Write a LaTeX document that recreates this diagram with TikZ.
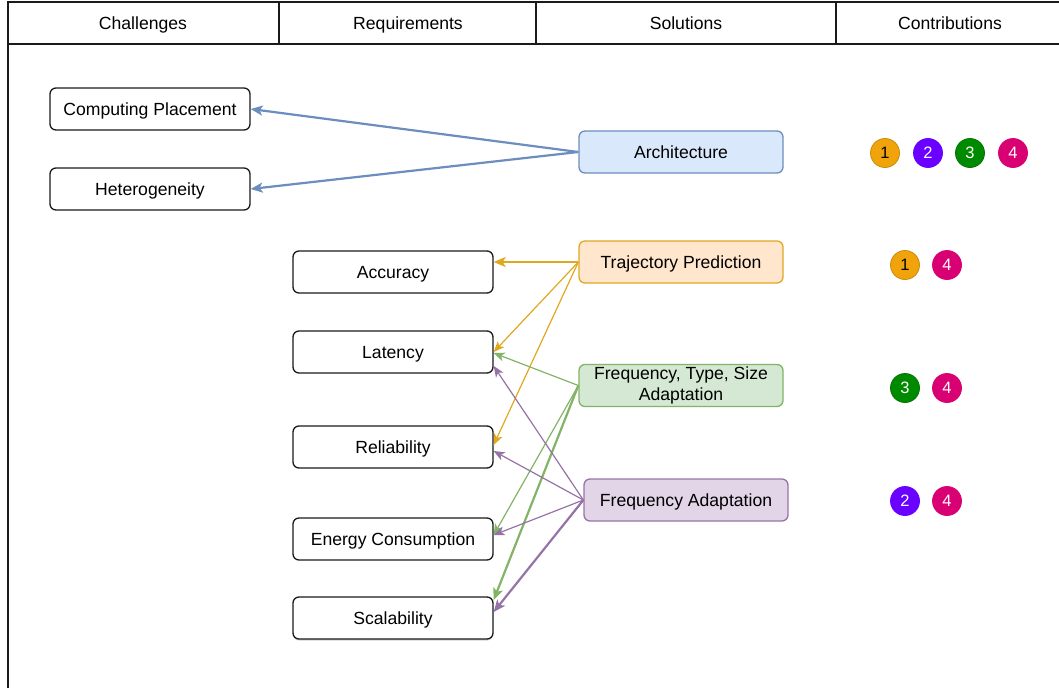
\documentclass[tikz,border=0pt]{standalone}
\usepackage{fontspec}
\setmainfont{Liberation Sans}
\usetikzlibrary{arrows.meta,calc,shadows}
\definecolor{bline}{HTML}{6C8EBF}
\definecolor{bfill}{HTML}{DAE8FC}
\definecolor{oline}{HTML}{E0A820}
\definecolor{ofill}{HTML}{FFE6CC}
\definecolor{gline}{HTML}{82B366}
\definecolor{gfill}{HTML}{D5E8D4}
\definecolor{pline}{HTML}{9673A6}
\definecolor{pfill}{HTML}{E1D5E7}
\definecolor{cone}{HTML}{F0A30A}
\definecolor{ctwo}{HTML}{6A00FF}
\definecolor{cthree}{HTML}{008A00}
\definecolor{cfour}{HTML}{D80073}
\definecolor{frame}{HTML}{1A1A1A}
\begin{document}
\begin{tikzpicture}[x=1pt,y=-1pt,
  font=\fontsize{17.6}{21}\selectfont,
  oneline/.style={text height=13pt, text depth=0.5pt},
  hdr/.style={inner sep=0pt, oneline},
  reqbox/.style={draw=frame, line width=1.3pt, rounded corners=6pt, minimum width=200pt, minimum height=42pt, fill=white, inner sep=2pt, oneline},
  solbox/.style={line width=1.3pt, rounded corners=6pt, minimum width=204pt, minimum height=42pt, align=center, inner sep=2pt},
  cnum/.style={circle, minimum size=29pt, inner sep=0pt, line width=0.8pt, font=\fontsize{16.5}{16.5}\selectfont, text=white},
  thin/.style={line width=1.2pt, -{Stealth[length=11pt,width=9pt,inset=3pt]}},
  thick/.style={line width=2.2pt, -{Stealth[length=12pt,width=10pt,inset=3pt]}}
]
\useasboundingbox (0,0) rectangle (1059,688);
% frame
\draw[frame, line width=1.3pt] (8,688) -- (8,2) -- (1059,2);
\draw[frame, line width=1.3pt] (8,44) -- (1059,44);
\draw[frame, line width=1.3pt] (279,2) -- (279,44) (536,2) -- (536,44) (836,2) -- (836,44);
\node[hdr] (h1) at (143,23) {Challenges};
\node[hdr] (h2) at (408,23) {Requirements};
\node[hdr] (h3) at (686,23) {Solutions};
\node[hdr] (h4) at (950,23) {Contributions};
% requirement / challenge boxes
\node[reqbox] (cp) at (150,109) {Computing Placement};
\node[reqbox] (het) at (150,189) {Heterogeneity};
\node[reqbox] (acc) at (393,272) {Accuracy};
\node[reqbox] (lat) at (393,352) {Latency};
\node[reqbox] (rel) at (393,447) {Reliability};
\node[reqbox] (en) at (393,539) {Energy Consumption};
\node[reqbox, drop shadow={shadow xshift=0pt, shadow yshift=-1.5pt, opacity=0.35}] (sc) at (393,618) {Scalability};
% solution boxes
\node[solbox, draw=bline, fill=bfill, oneline] (arch) at (681,152) {Architecture};
\node[solbox, draw=oline, fill=ofill, oneline] (traj) at (681,262) {Trajectory Prediction};
\node[solbox, draw=gline, fill=gfill, font=\fontsize{17.6}{21}\selectfont] (fts) at (681,385.5) {Frequency, Type, Size\\Adaptation};
\node[solbox, draw=pline, fill=pfill, oneline] (fa) at (686,500) {Frequency Adaptation};
% arrows
\draw[thick, bline] (arch.west) -- (cp.east);
\draw[thick, bline] (arch.west) -- (het.east);
\draw[thick, oline] (traj.west) -- (acc.east |- traj.west);
\draw[thin, oline] (traj.west) -- (lat.east);
\draw[thin, oline] (traj.west) -- ($(rel.east)+(0,-2)$);
\draw[thin, gline] (fts.west) -- ($(lat.east)+(0,1)$);
\draw[thin, gline] (fts.west) -- ($(en.east)+(0,-4)$);
\draw[thick, gline] (fts.west) -- ($(sc.east)+(0,-18)$);
\draw[thin, pline] (fa.west) -- ($(lat.east)+(0,14)$);
\draw[thin, pline] (fa.west) -- ($(rel.east)+(0,4)$);
\draw[thin, pline] (fa.west) -- ($(en.east)+(0,-4)$);
\draw[thick, pline] (fa.west) -- ($(sc.east)+(0,-6)$);
% contribution circles
\node[cnum, fill=cone, draw=cone!85!black, text=black] (a1) at (885,153) {1};
\node[cnum, fill=ctwo, draw=ctwo] (a2) at (928,153) {2};
\node[cnum, fill=cthree, draw=cthree!85!black] (a3) at (970,153) {3};
\node[cnum, fill=cfour, draw=cfour] (a4) at (1013,153) {4};
\node[cnum, fill=cone, draw=cone!85!black, text=black] (b1) at (905,265) {1};
\node[cnum, fill=cfour, draw=cfour] (b4) at (947,265) {4};
\node[cnum, fill=cthree, draw=cthree!85!black] (c3) at (905,388) {3};
\node[cnum, fill=cfour, draw=cfour] (c4) at (947,388) {4};
\node[cnum, fill=ctwo, draw=ctwo] (d2) at (905,501) {2};
\node[cnum, fill=cfour, draw=cfour] (d4) at (947,501) {4};
\end{tikzpicture}
\end{document}
